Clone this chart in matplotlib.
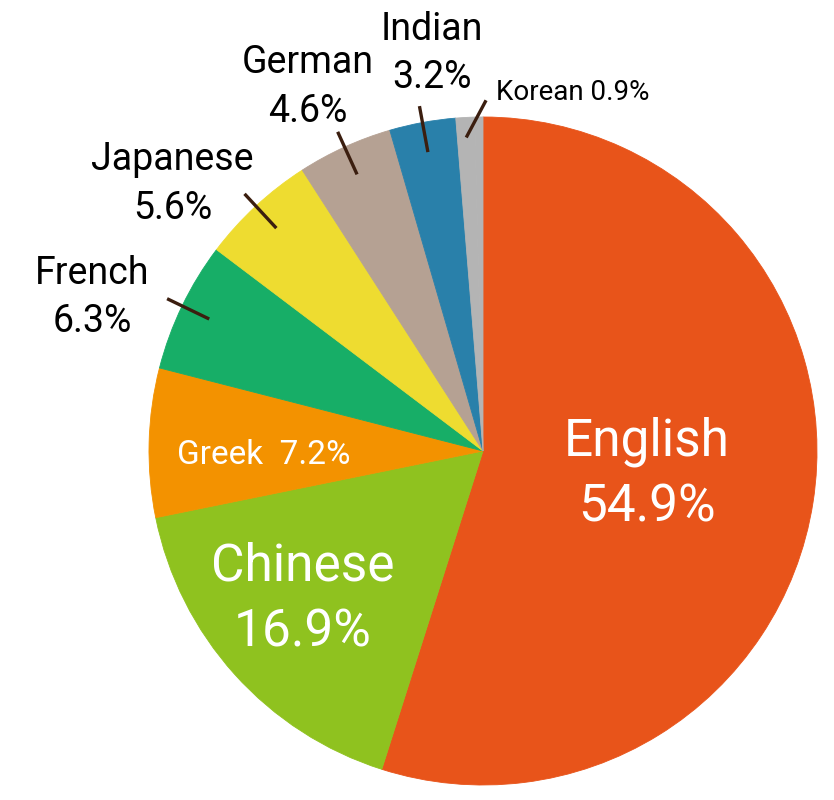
import numpy as np
import matplotlib.pyplot as plt

# language share of the corpus (%)
languages = ["English", "Chinese", "Greek", "French", "Japanese", "German", "Indian", "Korean"]
shares = [54.9, 16.9, 7.2, 6.3, 5.6, 4.6, 3.2, 0.9]
colors = ["#E8541A", "#8FC21F", "#F39200", "#17AE67", "#EEDC30", "#B5A193", "#2980AA", "#B4B4B4"]

plt.rcParams['font.family'] = ['Roboto', 'DejaVu Sans']

fig = plt.figure(figsize=(8.34, 8), dpi=100)
# pie centre at ~(483, 451) px, radius ~334 px
r_px = 334
ax = fig.add_axes([(483 - r_px) / 834, (800 - 451 - r_px) / 800, 2 * r_px / 834, 2 * r_px / 800])

# shares are out of 100; the rounding remainder is drawn in the Korean grey
remainder = 100 - sum(shares)
wedges, _ = ax.pie([s / 100 for s in shares] + [remainder / 100], colors=colors + [colors[-1]],
                   startangle=90, counterclock=False, normalize=False, radius=1)
for w in wedges:
    w.set_edgecolor(w.get_facecolor())
    w.set_linewidth(0.6)
ax.set_xlim(-1, 1)
ax.set_ylim(-1, 1)
ax.axis('off')

def mid_angle(w):
    return np.deg2rad((w.theta1 + w.theta2) / 2)

# labels inside the big wedges (white)
inside = {"English": (0.49, -0.07), "Chinese": (-0.54, -0.445)}
for name, (x, y) in inside.items():
    i = languages.index(name)
    ax.text(x, y, f"{name}\n{shares[i]}%", ha='center', va='center', color='white',
            fontsize=37, linespacing=1.4)

i = languages.index("Greek")
ax.text(-0.655, -0.012, f"Greek  {shares[i]}%", ha='center', va='center', color='white', fontsize=24)

# labels outside with leader lines
outside = {"French": (-1.17, 0.46), "Japanese": (-0.93, 0.80),
           "German": (-0.525, 1.09), "Indian": (-0.153, 1.19)}
for name, (x, y) in outside.items():
    i = languages.index(name)
    ax.text(x, y, f"{name}\n{shares[i]}%", ha='center', va='center', color='black',
            fontsize=27, linespacing=1.4)
    a = mid_angle(wedges[i])
    ax.plot([0.91 * np.cos(a), 1.05 * np.cos(a)], [0.91 * np.sin(a), 1.05 * np.sin(a)],
            color='#3B1E0F', lw=2.4, solid_capstyle='butt', clip_on=False)

i = languages.index("Korean")
ax.text(0.27, 1.072, f"Korean {shares[i]}%", ha='center', va='center', color='black', fontsize=20)
a = mid_angle(wedges[i])
ax.plot([0.94 * np.cos(a), 1.05 * np.cos(np.deg2rad(89.5))],
        [0.94 * np.sin(a), 1.05 * np.sin(np.deg2rad(89.5))],
        color='#3B1E0F', lw=2.4, solid_capstyle='butt', clip_on=False)

fig.savefig("out.png", dpi=100)
